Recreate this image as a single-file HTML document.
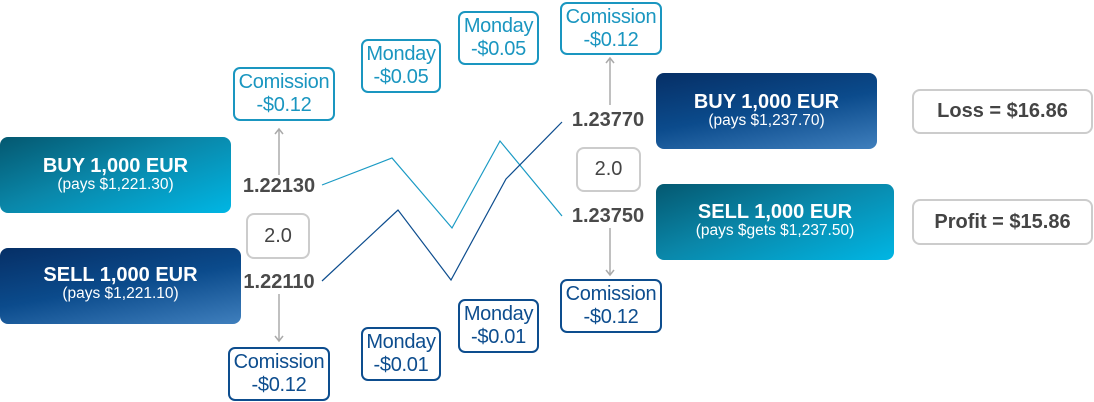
<!DOCTYPE html>
<html><head><meta charset="utf-8"><style>
body{margin:0;width:1094px;height:402px;background:#fff;position:relative;overflow:hidden;font-family:"Liberation Sans",sans-serif}
.a{position:absolute;box-sizing:border-box}
.big{border-radius:8px;color:#fff;text-align:center}
.big b{display:block;font-size:20px;line-height:21px}
.big span{display:block;font-size:15.5px;line-height:16px}
.teal{background:linear-gradient(160deg,#045870 0%,#0a86a8 45%,#00b6e4 100%)}
.navy{background:linear-gradient(170deg,#062f66 0%,#0b4b8c 50%,#3f7fbd 100%)}
.lb{border:2px solid #1a96c0;color:#1a96c0;border-radius:7px;text-align:center;font-size:20px;line-height:23px;padding-top:2px;background:#fff;letter-spacing:-0.3px}
.db{border:2px solid #0d4d8e;color:#0d4d8e;border-radius:7px;text-align:center;font-size:20px;line-height:23px;padding-top:2px;background:#fff;letter-spacing:-0.3px}
.gb{border:2px solid #ccc;border-radius:8px;color:#444;text-align:center;font-size:20px;background:#fff}
.num{font-weight:bold;font-size:20px;color:#4a4a4a;width:100px;text-align:center}
</style></head><body>
<svg class="a" style="left:0;top:0" width="1094" height="402">
<g stroke="#aaa" stroke-width="1.5" fill="none">
<line x1="279" y1="175" x2="279" y2="130"/><path d="M275,134 L279,129 L283,134"/>
<line x1="279" y1="294" x2="279" y2="340"/><path d="M275,336 L279,341 L283,336"/>
<line x1="610" y1="105" x2="610" y2="59"/><path d="M606,63 L610,58 L614,63"/>
<line x1="610" y1="228" x2="610" y2="274"/><path d="M606,270 L610,275 L614,270"/>
</g>
<polyline points="322,185 392,158 452,228 500,141 562,216" fill="none" stroke="#1a9ac4" stroke-width="1.2"/>
<polyline points="322,281 398,210 451,280 506,179 562,122" fill="none" stroke="#0d4d8e" stroke-width="1.2"/>
</svg>
<div class="a big teal" style="left:0;top:137px;width:231px;height:76px;padding-top:19px"><b>BUY 1,000 EUR</b><span>(pays $1,221.30)</span></div>
<div class="a big navy" style="left:0;top:248px;width:241px;height:76px;padding-top:17px"><b>SELL 1,000 EUR</b><span>(pays $1,221.10)</span></div>
<div class="a big navy" style="left:656px;top:73px;width:221px;height:76px;padding-top:19px"><b>BUY 1,000 EUR</b><span>(pays $1,237.70)</span></div>
<div class="a big teal" style="left:656px;top:184px;width:238px;height:76px;padding-top:18px"><b>SELL 1,000 EUR</b><span>(pays $gets $1,237.50)</span></div>
<div class="a gb" style="left:912px;top:89px;width:181px;height:45px;line-height:41px;font-weight:bold">Loss = $16.86</div>
<div class="a gb" style="left:912px;top:199px;width:181px;height:46px;line-height:42px;font-weight:bold">Profit = $15.86</div>
<div class="a gb" style="left:246px;top:213px;width:64px;height:46px;line-height:42px">2.0</div>
<div class="a gb" style="left:576px;top:147px;width:65px;height:45px;line-height:41px">2.0</div>
<div class="a num" style="left:229px;top:175px">1.22130</div>
<div class="a num" style="left:229px;top:271px">1.22110</div>
<div class="a num" style="left:558px;top:109px">1.23770</div>
<div class="a num" style="left:558px;top:205px">1.23750</div>
<div class="a lb" style="left:233px;top:67px;width:102px;height:54px">Comission<br>-$0.12</div>
<div class="a lb" style="left:361px;top:39px;width:80px;height:54px">Monday<br>-$0.05</div>
<div class="a lb" style="left:458px;top:11px;width:81px;height:54px">Monday<br>-$0.05</div>
<div class="a lb" style="left:560px;top:2px;width:102px;height:53px">Comission<br>-$0.12</div>
<div class="a db" style="left:228px;top:347px;width:102px;height:54px">Comission<br>-$0.12</div>
<div class="a db" style="left:361px;top:327px;width:80px;height:54px">Monday<br>-$0.01</div>
<div class="a db" style="left:458px;top:299px;width:81px;height:54px">Monday<br>-$0.01</div>
<div class="a db" style="left:560px;top:279px;width:102px;height:54px">Comission<br>-$0.12</div>
</body></html>
